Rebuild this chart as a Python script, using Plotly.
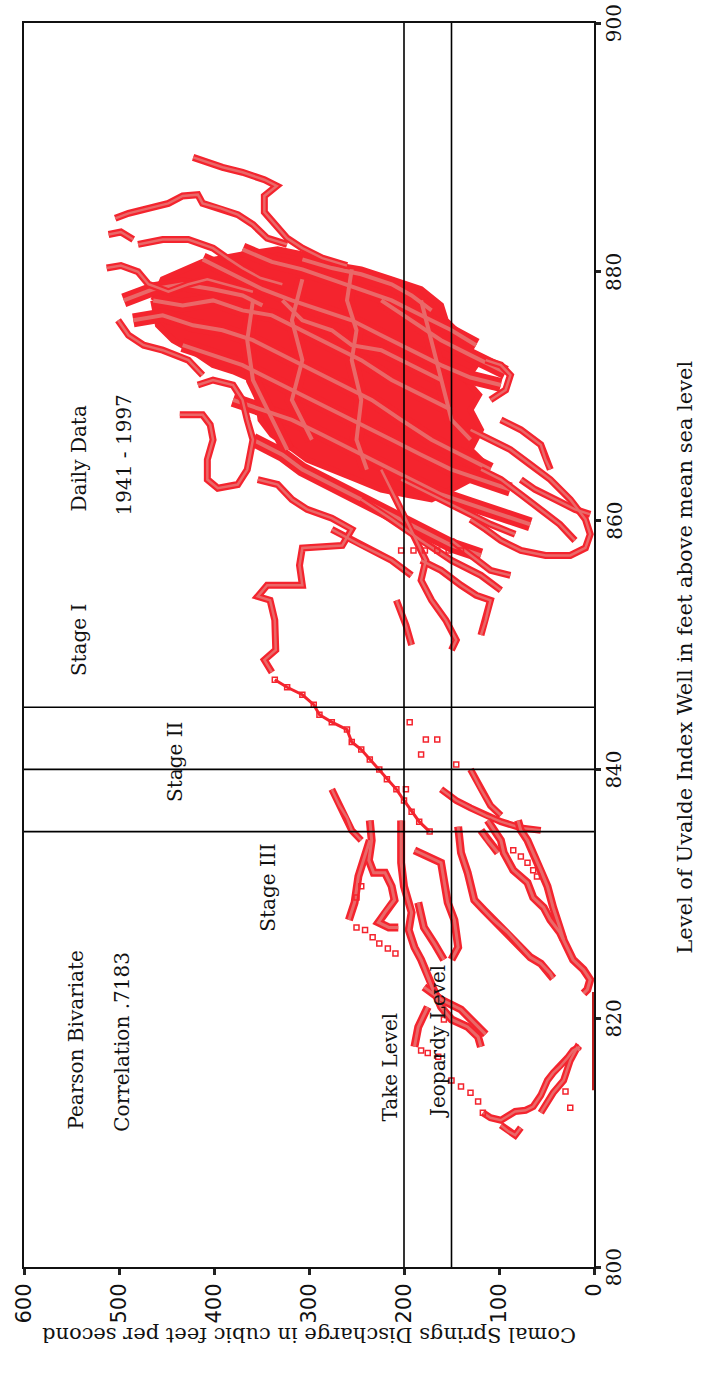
import plotly.graph_objects as go

# Comal Springs discharge (cfs) against Uvalde index well level (ft above msl).
# Each group holds daily trails; None breaks one trail from the next.

# Outline of the most heavily visited wet-period states
dense_q = [464, 454, 412, 370, 333, 307, 276, 245, 213, 182, 161, 156, 140, 130, 124, 135, 121, 130,
           119, 130, 114, 130, 150, 171, 198, 224, 250, 276, 302, 318, 339, 351, 354, 359, 380,
           401, 422, 443, 459, 464]
dense_lvl = [877.7, 879.4, 880.8, 881.4, 881.8, 881.4, 880.6, 880.2, 879.4, 878.6, 877.3, 876.1,
             874.9, 873.7, 872.5, 871.3, 870.1, 868.9, 867.3, 865.7, 864.5, 863.3, 862.5, 861.7,
             862.1, 862.5, 863.3, 864.1, 864.9, 865.8, 866.9, 868.1, 869.7, 871.3, 872.0, 872.5,
             873.6, 874.5, 875.7, 877.7]

core_q = [464, 433, 401, 370, 339, 307, 276, 245, 213, 182, 150, None,
          485, 454, 422, 391, 359, 328, 297, 265, 234, 203, 171, 140, 109, None,
          412, 380, 349, 318, 286, 255, 224, 192, 161, 130, 98, None,
          370, 339, 307, 276, 245, 213, 182, 150, 124, None,
          307, 276, 245, 213, 192, 171, None,
          433, 401, 370, 339, 307, 276, 245, 213, 182, 150, 119, 88, None,
          380, 349, 318, 286, 255, 224, 192, 161, 130, 98, 67, None,
          359, 328, 307, 276, 245, 213, 182, 150, 119, None,
          328, 307, 276, 255, 224, 192, 161, None,
          255, 260, 250, 255, 245, 250, 239, None,
          307, 318, 307, 318, 297, None,
          182, 171, 161, 150, 130, None,
          359, 365, 359, 339, 323, None,
          495, 464, 433, 401, 370, 349, None,
          224, 192, 161, 130, 109, 93]
core_lvl = [877.7, 877.3, 877.7, 876.9, 876.5, 875.3, 874.1, 872.9, 871.3, 870.1, 868.9, None,
            876.1, 876.5, 875.7, 875.3, 874.5, 873.3, 872.1, 870.9, 869.7, 868.1, 866.5, 865.3, 864.1, None,
            881.0, 879.8, 878.6, 877.7, 876.9, 876.1, 874.9, 873.7, 872.5, 871.5, 870.9, None,
            881.8, 880.8, 880.2, 879.4, 878.6, 877.7, 876.5, 875.3, 874.1, None,
            881.0, 880.3, 879.8, 879.0, 878.1, 876.9, None,
            874.1, 873.3, 872.5, 871.3, 870.1, 868.9, 867.7, 866.5, 865.3, 864.1, 863.3, 862.5, None,
            869.7, 868.9, 868.1, 866.9, 865.7, 864.5, 863.3, 862.1, 861.3, 860.5, 859.7, None,
            866.5, 865.3, 864.1, 862.9, 861.7, 860.5, 859.3, 858.0, 857.2, None,
            877.7, 876.1, 875.3, 874.1, 873.7, 872.5, 871.3, None,
            880.2, 877.7, 875.3, 872.9, 869.7, 866.5, 864.1, None,
            879.4, 876.1, 872.9, 869.7, 866.5, None,
            877.7, 874.5, 871.3, 868.1, 866.5, None,
            877.7, 874.5, 871.3, 868.1, 865.7, None,
            877.7, 878.6, 879.0, 878.6, 878.1, 877.3, None,
            877.7, 876.1, 874.5, 873.3, 872.5, 871.9]

upper_q = [422, 407, 391, 370, 347, 334, 347, 347, 336, 323, 307, 286, 260, None,
           504, 490, 469, 448, 433, 417, 412, 393, 375, 359, 344, 323, None,
           511, 498, 485, None,
           480, 454, 427, 401, 386, 370, 351, 328, None,
           513, 498, 480, 469, 448, 427, 407, 382, 359, None,
           417, 401, 380, 370, 365, 359, 365, 375, 396, 407, 407, 401, 404, 412, 436, None,
           501, 490, 474, 454, 427, 412]
upper_lvl = [889.2, 888.8, 888.4, 888.0, 887.4, 886.9, 886.1, 884.8, 883.8, 882.7, 881.9, 881.1, 880.5, None,
             884.3, 884.7, 885.1, 885.5, 886.1, 886.2, 885.5, 885.1, 884.6, 883.8, 882.7, 882.2, None,
             883.0, 883.2, 882.6, None,
             882.2, 882.6, 882.6, 881.9, 881.1, 880.3, 879.5, 879.0, None,
             880.3, 880.5, 880.0, 879.0, 878.4, 879.0, 879.4, 878.9, 878.4, None,
             870.9, 871.3, 870.9, 869.7, 868.1, 866.5, 864.1, 862.9, 862.6, 863.3, 864.9, 866.5, 867.7, 868.5, 868.5, None,
             876.1, 874.9, 874.1, 873.7, 872.9, 871.7]

middle_q = [354, 333, 318, 302, 276, 255, 265, 307, 310, 307, 344, 354, 341, 336, 335, 347, 339, None,
            224, 208, 198, 187, 177, 182, 171, 156, 145, 150, None,
            182, 161, 140, 124, 109, 114, 119, None,
            150, 130, 109, 88, None,
            208, 198, 192, None,
            130, 109, 88, 67, 46, 25, 9, 4, 9, 25, 51, 77, 98, 114, 130, None,
            119, 98, 77, 56, 36, 20, None,
            109, 93, 88, 98, 114, None,
            98, 77, 56, 51, 46, None,
            77, 62, 41, 20, 4, None,
            245, 213, 182, 150, 119, 98, None,
            203, 171, 140, 109, 83, None,
            276, 245, 213, 192, None,
            276, 268, 260, 255, 245, None,
            161, 145, 130, 114, 98, 77, 56, None,
            130, 119, 109, 98]
middle_lvl = [863.3, 862.9, 861.7, 860.9, 860.2, 859.3, 858.0, 857.8, 856.4, 854.8, 854.8, 853.9, 853.6, 852.0, 849.6, 848.8, 847.8, None,
              864.1, 861.7, 860.1, 858.4, 856.8, 855.2, 853.6, 852.0, 850.4, 849.6, None,
              856.8, 856.0, 854.8, 854.0, 853.6, 852.0, 850.8, None,
              858.4, 857.2, 856.0, 855.6, None,
              853.6, 851.6, 850.0, None,
              867.3, 866.5, 865.7, 864.5, 863.3, 861.7, 860.1, 858.9, 857.8, 857.2, 857.2, 857.6, 858.4, 859.3, 860.1, None,
              864.1, 863.3, 862.1, 860.9, 859.7, 858.4, None,
              869.7, 870.5, 871.7, 872.5, 872.9, None,
              868.1, 867.3, 866.1, 864.9, 864.1, None,
              863.3, 862.5, 861.7, 860.9, 860.5, None,
              861.7, 860.1, 858.4, 856.8, 855.6, 854.4, None,
              863.3, 862.1, 860.9, 859.7, 858.9, None,
              859.3, 858.0, 856.8, 855.6, None,
              838.4, 837.1, 836.1, 835.1, 834.3, None,
              838.4, 837.5, 836.9, 836.3, 835.8, 835.3, 835.1, None,
              840.0, 838.4, 837.1, 836.3]

lower_q = [236, 234, 237, 232, 220, 213, 210, 220, 227, 216, 206, None,
           236, 248, 252, 258, None,
           203, 203, 200, 192, 195, 189, 182, 175, 168, 161, 150, 133, 122, 119, None,
           189, 175, 161, 154, 147, 143, 150, None,
           185, 179, 168, 158, None,
           175, 185, 189, None,
           143, 140, 133, 126, 116, 106, 91, 77, 67, 56, 46, 43, None,
           112, 98, 95, 85, 70, 64, 53, 46, 36, 28, 22, 11, 4, 7, 11, None,
           80, 77, 70, 64, 56, 49, 43, 36, 32, None,
           119, 112, 101, None,
           179, 161, 140, 124, 114]
lower_lvl = [835.9, 834.3, 832.7, 831.7, 831.7, 830.6, 829.5, 828.5, 827.7, 827.3, 827.3, None,
             834.3, 831.4, 829.3, 827.9, None,
             835.9, 832.5, 830.6, 828.5, 827.1, 825.7, 824.7, 823.3, 822.0, 820.9, 819.9, 819.3, 818.5, 817.7, None,
             833.5, 833.0, 832.5, 829.3, 827.9, 825.7, 824.7, None,
             829.3, 827.3, 826.0, 824.7, None,
             820.9, 819.3, 817.7, None,
             835.4, 833.3, 831.7, 829.5, 828.7, 827.9, 826.9, 825.7, 824.9, 824.4, 823.6, 823.2, None,
             835.9, 834.3, 833.3, 831.9, 830.9, 829.7, 828.9, 827.9, 826.9, 825.7, 824.7, 823.9, 823.1, 822.3, 822.0, None,
             835.9, 835.1, 834.3, 833.3, 831.9, 830.6, 828.9, 827.3, 826.3, None,
             835.1, 834.3, 833.3, None,
             822.5, 821.5, 820.7, 819.5, 818.7]

bottom_q = [117, 109, 98, 91, 83, 72, 64, 56, 49, 43, 36, 28, 22, 15, None,
            56, 43, 32, 25, 18, 15, None,
            98, 90, 83, 77]
bottom_lvl = [812.4, 812.0, 811.8, 812.1, 812.5, 812.6, 812.9, 813.8, 815.0, 815.6, 816.1, 816.8, 817.4, 817.7, None,
              812.4, 814.0, 815.0, 816.6, 817.6, 817.4, None,
              811.4, 810.9, 810.6, 811.2]

# Sparse fall from Stage I through Stage III
descent_q = [336, 323, 307, 295, 289, 276, 260, 255, 245, 236, 226, 218, 208, 200, 192, 184, 173]
descent_lvl = [847.2, 846.6, 846.0, 845.2, 844.4, 843.8, 843.2, 842.2, 841.6, 840.8, 840.0, 839.2,
               838.4, 837.5, 836.6, 835.8, 835.0]

# Isolated days
single_q = [203, 190, 178, 165, 153, 140,
            250, 241, 233, 226, 217, 209, 245, 250,
            85, 77, 70, 64, 60,
            182, 175, 164, 158, 150, 140, 130, 122, 117,
            194, 177, 165, 182, 145, 198,
            25, 30]
single_lvl = [857.6, 857.6, 857.6, 857.6, 857.6, 857.6,
              827.3, 827.1, 826.5, 826.0, 825.6, 825.2, 830.6, 829.7,
              833.5, 833.0, 832.5, 831.9, 831.4,
              817.4, 817.2, 816.9, 819.9, 815.0, 814.5, 814.0, 813.3, 812.4,
              843.8, 842.4, 842.4, 841.2, 840.4, 838.4,
              812.8, 814.1]

# Days with no spring flow
zero_q = [0, 0]
zero_lvl = [814.2, 822.1]

stage_levels = [845, 840, 835]          # Stage I, II, III triggers
flow_limits = [200, 150]                # take level, jeopardy level

q_ticks = [0, 100, 200, 300, 400, 500, 600]
lvl_ticks = [800, 820, 840, 860, 880, 900]

RED = "rgb(244,36,46)"
PINK = "rgb(234,104,104)"

fig = go.Figure()

fig.add_trace(go.Scatter(x=dense_q, y=dense_lvl, mode="lines", fill="toself", hoverinfo="skip",
                         fillcolor=RED, line=dict(color=RED, width=6)))


def trail(q, lvl, width, inner):
    assert len(q) == len(lvl)
    fig.add_trace(go.Scatter(x=q, y=lvl, mode="lines", hoverinfo="skip",
                             line=dict(color=RED, width=width)))
    fig.add_trace(go.Scatter(x=q, y=lvl, mode="lines", hoverinfo="skip",
                             line=dict(color=PINK, width=inner)))


trail(core_q, core_lvl, 14, 4)
trail(upper_q, upper_lvl, 7, 2.5)
trail(middle_q, middle_lvl, 7, 2.5)
trail(lower_q, lower_lvl, 8, 3)
trail(bottom_q, bottom_lvl, 7, 2.5)

fig.add_trace(go.Scatter(x=descent_q, y=descent_lvl, mode="lines+markers", hoverinfo="skip",
                         line=dict(color=RED, width=3),
                         marker=dict(symbol="square-open", size=5, color=RED, line=dict(width=1.5))))
fig.add_trace(go.Scatter(x=single_q, y=single_lvl, mode="markers", hoverinfo="skip",
                         marker=dict(symbol="square-open", size=5, color=RED, line=dict(width=1.5))))
fig.add_trace(go.Scatter(x=zero_q, y=zero_lvl, mode="lines", hoverinfo="skip", cliponaxis=False,
                         line=dict(color="rgb(190,30,30)", width=4)))

for lv in stage_levels:
    fig.add_shape(type="line", xref="x domain", x0=0, x1=1, yref="y", y0=lv, y1=lv,
                  line=dict(color="black", width=1.6))
for fq in flow_limits:
    fig.add_shape(type="line", xref="x", x0=fq, x1=fq, yref="y domain", y0=0, y1=1,
                  line=dict(color="black", width=1.6))

SERIF = "DejaVu Serif"
notes = [
    ("Pearson Bivariate", 545, 818.3),
    ("Correlation .7183", 497, 818.1),
    ("Daily Data", 542, 865.0),
    ("1941 - 1997", 495, 865.3),
    ("Stage I", 542, 850.4),
    ("Stage II", 441, 840.6),
    ("Stage III", 344, 830.5),
    ("Take Level", 215, 816.1),
    ("Jeopardy Level", 164, 818.1),
]
for text, qx, ly in notes:
    fig.add_annotation(x=qx, y=ly, xref="x", yref="y", text=text, textangle=-90,
                       showarrow=False, font=dict(family=SERIF, size=20, color="#111"))

# Well-level tick labels, set a little away from the right axis
for v in lvl_ticks:
    fig.add_annotation(x=1.06, y=v, xref="paper", yref="y", text=str(v), textangle=-90,
                       showarrow=False, font=dict(family=SERIF, size=20, color="#111"))

fig.add_annotation(x=1.1847, y=0.49, xref="paper", yref="paper", textangle=-90,
                   text="Level of Uvalde Index Well in feet above mean sea level",
                   showarrow=False, font=dict(family=SERIF, size=21, color="#111"))
fig.add_annotation(x=0.5, y=-0.066, xref="paper", yref="paper", textangle=180,
                   text="Comal Springs Discharge in cubic feet per second",
                   showarrow=False, font=dict(family=SERIF, size=21, color="#111"))

fig.update_layout(
    width=719, height=1377,
    margin=dict(l=20, r=125, t=23, b=110),
    paper_bgcolor="white", plot_bgcolor="white",
    showlegend=False,
    xaxis=dict(range=[600, 0], tickvals=q_ticks, tickangle=-90,
               ticks="outside", ticklen=6, tickwidth=3, tickcolor="#222",
               showline=True, mirror=True, linecolor="#111", linewidth=2,
               showgrid=False, zeroline=False,
               tickfont=dict(family="DejaVu Sans", size=21, color="#111")),
    yaxis=dict(range=[800, 900], tickvals=lvl_ticks, side="right",
               ticks="outside", ticklen=5, tickwidth=3, tickcolor="#222",
               showline=True, mirror=True, linecolor="#111", linewidth=2,
               showgrid=False, zeroline=False, layer="below traces",
               showticklabels=False),
)

fig.write_html("out.html")
